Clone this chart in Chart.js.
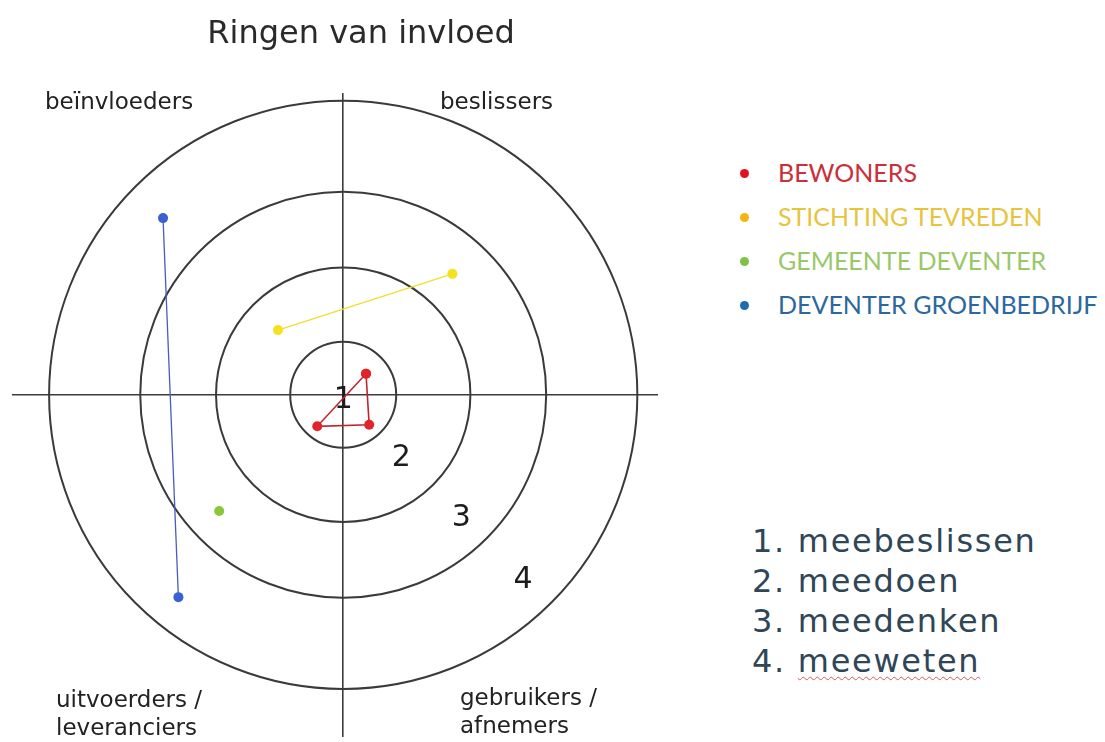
<!DOCTYPE html>
<html>
<head>
<meta charset="utf-8">
<script src="https://cdn.jsdelivr.net/npm/chart.js@4/dist/chart.umd.min.js"></script>
<style>
  body { margin: 0; background: #fff; }
  #page { position: relative; width: 1105px; height: 742px; overflow: hidden; background: #fff; }
  #ringChart { position: absolute; left: 0; top: 0; }
  .abs { position: absolute; white-space: nowrap; }
  #title { left: 0; width: 722px; top: 13px; text-align: center; font: 32px "DejaVu Sans", sans-serif; line-height: 38px; color: #2a2a2a; }
  .quad { font: 23px "DejaVu Sans", sans-serif; line-height: 28px; color: #222; }
  #legend { left: 740px; top: 150px; font: 25px Lato, "Liberation Sans", sans-serif; line-height: 44px; }
  #legend .dot { display: inline-block; width: 9px; height: 9px; border-radius: 50%; margin-right: 29px; vertical-align: 4px; }
  #levels { left: 752px; top: 521px; font: 32px "DejaVu Sans", sans-serif; letter-spacing: 1.7px; line-height: 40px; color: #2f4657; }
  #levels .spell { text-decoration: underline wavy #d25a5a; text-decoration-thickness: 1px; text-underline-offset: 4px; }
</style>
</head>
<body>
<div id="page">
  <canvas id="ringChart" width="700" height="742"></canvas>
  <div id="title" class="abs"></div>
  <div id="legend" class="abs"></div>
  <div id="levels" class="abs"></div>
</div>
<script>
// Chart values (units: ring 1 has radius 1, centre of the rings is 0,0)
const chartTitle = 'Ringen van invloed';
const seriesNames = ['BEWONERS', 'STICHTING TEVREDEN', 'GEMEENTE DEVENTER', 'DEVENTER GROENBEDRIJF'];
const bewonersX = [0.43, -0.49, 0.49, 0.43];
const bewonersY = [0.40, -0.60, -0.57, 0.40];
const tevredenX = [-1.23, 2.06];
const tevredenY = [1.23, 2.30];
const gemeenteX = [-2.34];
const gemeenteY = [-2.21];
const groenbedrijfX = [-3.40, -3.11];
const groenbedrijfY = [3.36, -3.85];

const ringRadii = [1, 2.4, 3.83, 5.55];
const ringLabels = ['1', '2', '3', '4'];
const ringLabelRadius = [0, 1.55, 3.15, 4.8];
const ringNames = ['meebeslissen', 'meedoen', 'meedenken', 'meeweten'];
const quadrantLabels = ['beïnvloeders', 'beslissers', 'uitvoerders /\nleveranciers', 'gebruikers /\nafnemers'];

const pointColors = ['#e0242b', '#f5e11f', '#8cc63a', '#3b60d2'];
const lineColors = ['#bf262c', '#eee02c', '#8cc63a', '#4a5cbf'];
const legendDotColors = ['#e0141e', '#f4b511', '#7fc247', '#1f6bb0'];
const legendTextColors = ['#c9303a', '#e6c43c', '#98c968', '#2b68a0'];

const toPoints = (xs, ys) => xs.map((x, i) => ({ x: x, y: ys[i] }));
const seriesData = [
  toPoints(bewonersX, bewonersY),
  toPoints(tevredenX, tevredenY),
  toPoints(gemeenteX, gemeenteY),
  toPoints(groenbedrijfX, groenbedrijfY)
];

// Rings and ring numbers, drawn from the chart's own scales
const ringsPlugin = {
  id: 'rings',
  beforeDatasetsDraw(chart) {
    const { ctx, scales: { x, y } } = chart;
    const cx = x.getPixelForValue(0);
    const cy = y.getPixelForValue(0);
    const unit = x.getPixelForValue(1) - cx;
    ctx.save();
    ctx.strokeStyle = '#3a3a3a';
    ctx.lineWidth = 2;
    ringRadii.forEach(r => {
      ctx.beginPath();
      ctx.arc(cx, cy, r * unit, 0, Math.PI * 2);
      ctx.stroke();
    });
    ctx.fillStyle = '#1c1c1c';
    ctx.font = '30px "DejaVu Sans", sans-serif';
    ctx.textAlign = 'center';
    ctx.textBaseline = 'alphabetic';
    ringLabels.forEach((label, i) => {
      const d = ringLabelRadius[i] * unit * Math.SQRT1_2;
      // baseline sits half a digit height below the label point
      ctx.fillText(label, cx + d, cy + d + 13);
    });
    ctx.restore();
  }
};

const onlyZero = scale => { scale.ticks = [{ value: 0 }]; };

const ctx = document.getElementById('ringChart').getContext('2d');
const ringChart = new Chart(ctx, {
  type: 'scatter',
  data: {
    datasets: seriesNames.map((name, i) => ({
      label: name,
      data: seriesData[i],
      showLine: true,
      borderColor: lineColors[i],
      borderWidth: i === 0 ? 1.6 : 1.3,
      pointRadius: 5,
      pointBorderWidth: 0,
      pointBackgroundColor: pointColors[i],
      tension: 0
    }))
  },
  options: {
    responsive: false,
    animation: false,
    devicePixelRatio: 1,
    layout: { padding: { left: 12, right: 42, top: 93, bottom: 0 } },
    plugins: {
      legend: { display: false },
      tooltip: { enabled: false }
    },
    scales: {
      x: {
        type: 'linear', min: -6.25, max: 5.94,
        afterBuildTicks: onlyZero,
        ticks: { display: false },
        grid: { color: '#3c3c3c', lineWidth: 1.6, drawTicks: false },
        border: { display: false }
      },
      y: {
        type: 'linear', min: -6.51, max: 5.74,
        afterBuildTicks: onlyZero,
        ticks: { display: false },
        grid: { color: '#3c3c3c', lineWidth: 1.6, drawTicks: false },
        border: { display: false }
      }
    }
  },
  plugins: [ringsPlugin]
});

// Title, quadrant labels, legend and level list
const page = document.getElementById('page');
document.getElementById('title').textContent = chartTitle;

const quadPos = [
  { left: 45, top: 87 },
  { left: 440, top: 87 },
  { left: 56, top: 685 },
  { left: 460, top: 683 }
];
quadrantLabels.forEach((text, i) => {
  const el = document.createElement('div');
  el.className = 'abs quad';
  el.style.left = quadPos[i].left + 'px';
  el.style.top = quadPos[i].top + 'px';
  el.innerHTML = text.split('\n').join('<br>');
  page.appendChild(el);
});

const legend = document.getElementById('legend');
seriesNames.forEach((name, i) => {
  const row = document.createElement('div');
  const dot = document.createElement('span');
  dot.className = 'dot';
  dot.style.background = legendDotColors[i];
  const txt = document.createElement('span');
  txt.textContent = name;
  txt.style.color = legendTextColors[i];
  row.appendChild(dot);
  row.appendChild(txt);
  legend.appendChild(row);
});

const levels = document.getElementById('levels');
ringNames.forEach((name, i) => {
  const row = document.createElement('div');
  row.appendChild(document.createTextNode(ringLabels[i] + '. '));
  const word = document.createElement('span');
  word.textContent = name;
  if (name === 'meeweten') word.className = 'spell';
  row.appendChild(word);
  levels.appendChild(row);
});
</script>
</body>
</html>
